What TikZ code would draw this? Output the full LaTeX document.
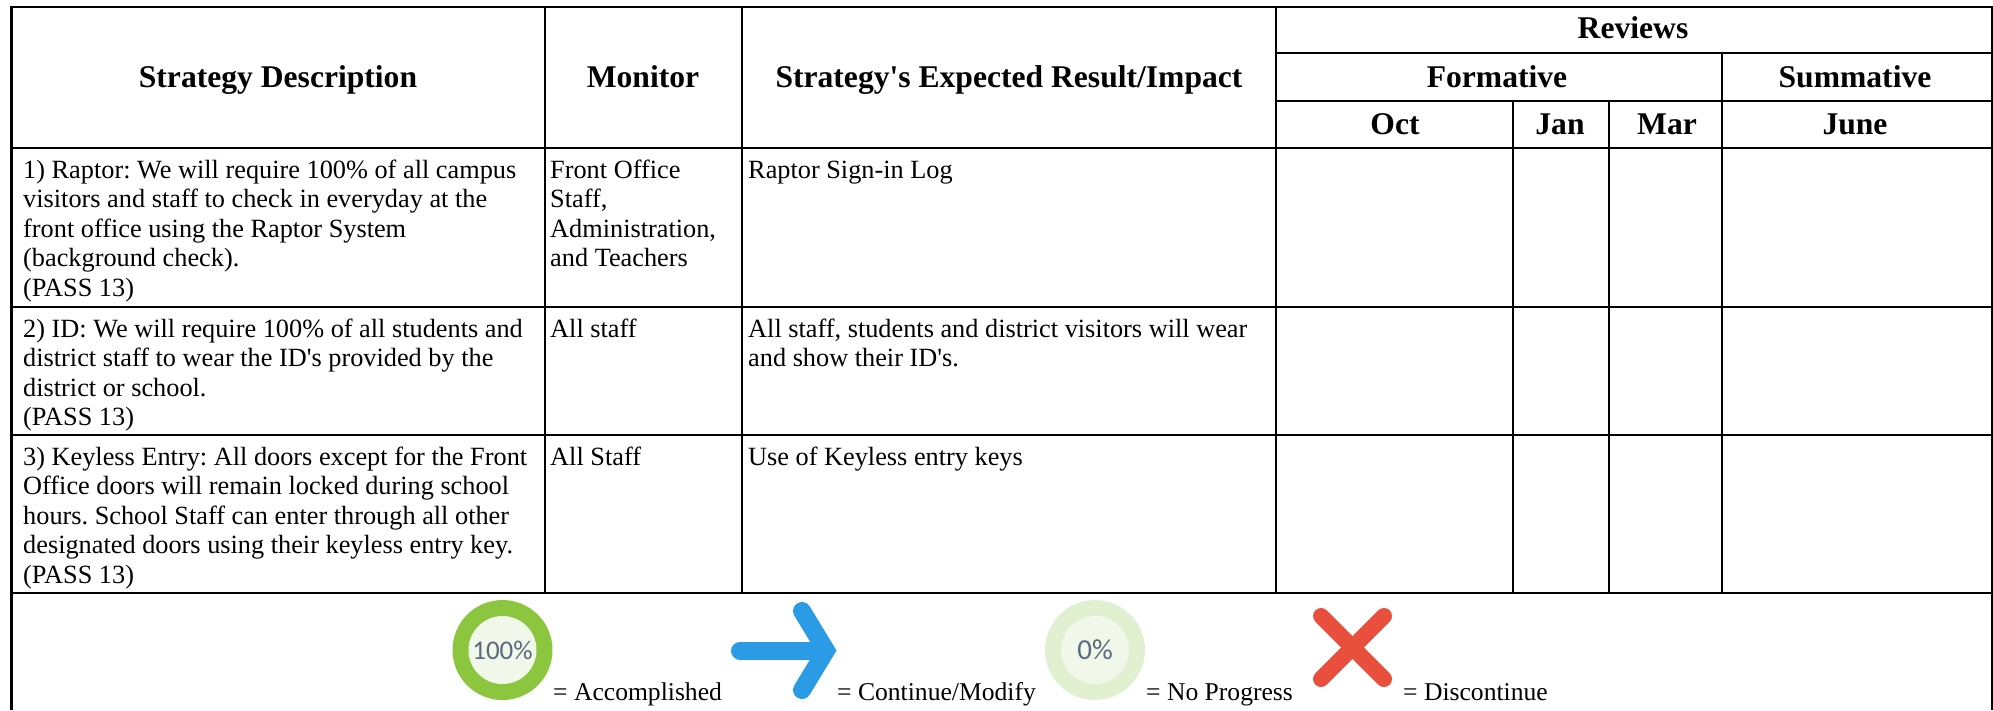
\documentclass[tikz,border=0pt]{standalone}
\usepackage{fontspec}
\setmainfont[Ligatures={TeXOff,NoCommon}]{Liberation Serif}
\newfontfamily\iconfont{Carlito}
\definecolor{ringgreen}{HTML}{8CC63F}
\definecolor{ringpale}{HTML}{E0F0D0}
\definecolor{ringin}{HTML}{F1F8EA}
\definecolor{iconblue}{HTML}{2B9BE5}
\definecolor{iconred}{HTML}{E94F3D}
\definecolor{icontext}{HTML}{5A6A80}
\newcommand{\Strut}{\rule{0pt}{20pt}}
\frenchspacing
\tikzset{
  grid/.style={line width=2.5pt,black},
  head/.style={anchor=base,inner sep=0pt,font=\fontsize{31.6}{36}\selectfont\bfseries},
  cell/.style={anchor=north west,inner sep=0pt,align=left,font=\fontsize{26.3}{29.5}\selectfont},
  legend/.style={anchor=base west,inner sep=0pt,font=\fontsize{25.6}{29.5}\selectfont},
  icontxt/.style={inner sep=0pt,text=icontext,font=\iconfont\fontsize{27}{30}\selectfont}
}
\begin{document}
\begin{tikzpicture}[x=1pt,y=-1pt]
\useasboundingbox (0,0) rectangle (1993,710);
\fill[white] (0,0) rectangle (1993,710);
% grid
\draw[grid] (11.5,710) -- (11.5,7) -- (1992,7) -- (1992,710);
\draw[grid] (1276,53) -- (1992,53);
\draw[grid] (1276,101) -- (1992,101);
\draw[grid] (11.5,148) -- (1992,148);
\draw[grid] (11.5,307) -- (1992,307);
\draw[grid] (11.5,435) -- (1992,435);
\draw[grid] (11.5,593) -- (1992,593);
\draw[grid] (545,7) -- (545,593);
\draw[grid] (742,7) -- (742,593);
\draw[grid] (1276,7) -- (1276,593);
\draw[grid] (1513,101) -- (1513,593);
\draw[grid] (1609,101) -- (1609,593);
\draw[grid] (1722,53) -- (1722,593);
% headers
\node[head] (h1) at (278,87) {Strategy Description};
\node[head] (h2) at (643,87) {Monitor};
\node[head] (h3) at (1009,87) {Strategy's Expected Result/Impact};
\node[head] (h4) at (1633,38) {Reviews};
\node[head] (h5) at (1497,87) {Formative};
\node[head] (h6) at (1855,87) {Summative};
\node[head] (h7) at (1395,134) {Oct};
\node[head] (h8) at (1560,134) {Jan};
\node[head] (h9) at (1667,134) {Mar};
\node[head] (h10) at (1855,134) {June};
% rows
\node[cell] (a1) at (23,158) {\Strut 1) Raptor: We will require 100\% of all campus\\visitors and staff to check in everyday at the\\front office using the Raptor System\\(background check).\\(PASS 13)};
\node[cell] (a2) at (550,158) {\Strut Front Office\\Staff,\\Administration,\\and Teachers};
\node[cell] (a3) at (748,158) {\Strut Raptor Sign-in Log};
\node[cell] (b1) at (23,317) {\Strut 2) ID: We will require 100\% of all students and\\district staff to wear the ID's provided by the\\district or school.\\(PASS 13)};
\node[cell] (b2) at (550,317) {\Strut All staff};
\node[cell] (b3) at (748,317) {\Strut All staff, students and district visitors will wear\\and show their ID's.};
\node[cell] (c1) at (23,445) {\Strut 3) Keyless Entry: All doors except for the Front\\Office doors will remain locked during school\\hours. School Staff can enter through all other\\designated doors using their keyless entry key.\\(PASS 13)};
\node[cell] (c2) at (550,445) {\Strut All Staff};
\node[cell] (c3) at (748,445) {\Strut Use of Keyless entry keys};
% legend icons
\fill[ringgreen] (502.5,650) circle (50);
\fill[ringin] (502.5,650) circle (34);
\node[icontxt] (i1) at (502.5,650) {100\%};
\draw[iconblue,line width=18pt,line cap=round] (740,650.5) -- (822,650.5);
\draw[iconblue,line width=18pt,line cap=round,miter limit=10] (802,611) -- (826,650.5) -- (802,690);
\fill[ringpale] (1095,650) circle (50);
\fill[ringin] (1095,650) circle (34);
\node[icontxt,font=\iconfont\fontsize{29}{30}\selectfont] (i2) at (1095,650) {0\%};
\draw[iconred,line width=16pt,line cap=round] (1321,616) -- (1384,679);
\draw[iconred,line width=16pt,line cap=round] (1384,616) -- (1321,679);
% legend text
\node[legend] (l1) at (553,700) {= Accomplished};
\node[legend] (l2) at (837,700) {= Continue/Modify};
\node[legend] (l3) at (1146,700) {= No Progress};
\node[legend] (l4) at (1403,700) {= Discontinue};
\end{tikzpicture}
\end{document}
